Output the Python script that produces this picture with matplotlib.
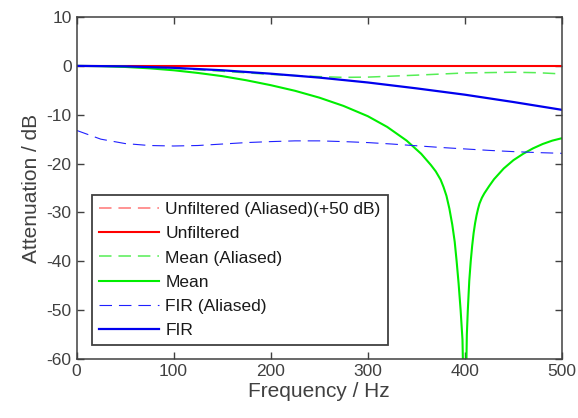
import matplotlib
matplotlib.use("Agg")
import matplotlib.pyplot as plt

# frequency grids (Hz) and attenuation (dB)
f_unf = [0, 500]
unf_aliased = [50, 50]          # +50 dB offset, lies above the visible range
unf = [0, 0]

f_mean = [0, 25, 50, 75, 100, 125, 150, 175, 200, 225, 250, 275, 300, 320,
          340, 355, 365, 370, 375, 378, 381, 384, 387, 389.5, 391.5, 393.5,
          395.6, 397.5, 400, 402, 403, 404.5, 406, 407.5, 409, 410.5, 412,
          413.5, 415, 417.5, 420, 425, 430, 440, 450, 460, 470, 480, 490, 500]
mean = [0, -0.06, -0.22, -0.5, -0.9, -1.45, -2.1, -2.95, -3.95, -5.1, -6.5,
        -8.2, -10.3, -12.5, -15.3, -18.0, -20.3, -21.6, -23.3, -24.8, -26.6,
        -29.2, -32.5, -36.0, -40.0, -44.5, -50.0, -56.0, -80.0, -55.0, -50.0,
        -44.0, -40.0, -36.8, -34.2, -32.2, -30.6, -29.3, -28.2, -27.0, -26.1,
        -24.6, -23.2, -21.0, -19.3, -18.0, -16.9, -16.0, -15.3, -14.8]

f_mean_al = [0, 50, 100, 150, 200, 250, 275, 300, 350, 400, 450, 475, 500]
mean_aliased = [0, -0.12, -0.5, -1.1, -1.75, -2.2, -2.35, -2.3, -1.9, -1.45,
                -1.3, -1.4, -1.65]

f_fir = [0, 50, 100, 150, 200, 250, 300, 350, 400, 450, 500]
fir = [0, -0.1, -0.4, -0.9, -1.6, -2.4, -3.4, -4.6, -5.9, -7.4, -9.0]

f_fir_al = [0, 25, 50, 75, 100, 125, 150, 175, 200, 225, 250, 275, 300, 325,
            350, 375, 400, 425, 450, 475, 500]
fir_aliased = [-13.2, -15.0, -15.9, -16.3, -16.4, -16.3, -16.0, -15.7, -15.5,
               -15.35, -15.35, -15.5, -15.7, -16.0, -16.35, -16.7, -17.0,
               -17.3, -17.55, -17.75, -17.9]

labels = ['Unfiltered (Aliased)(+50 dB)', 'Unfiltered', 'Mean (Aliased)',
          'Mean', 'FIR (Aliased)', 'FIR']


def main():
    plt.rcParams['font.family'] = ['Liberation Sans', 'DejaVu Sans']
    plt.rcParams['lines.scale_dashes'] = False
    plt.rcParams['axes.unicode_minus'] = False
    grey = '#404040'

    fig = plt.figure(figsize=(5.78, 4.18), dpi=100)
    ax = fig.add_axes([0.1324, 0.1411, 0.8399, 0.8182])

    dash = (9, 5)
    ax.plot(f_unf, unf_aliased, color='#ff8080', lw=1.2, dashes=dash, label=labels[0])
    ax.plot(f_unf, unf, color='#ff0000', lw=1.5, label=labels[1])
    ax.plot(f_mean_al, mean_aliased, color='#55ee55', lw=1.1, dashes=dash, label=labels[2])
    ax.plot(f_mean, mean, color='#00ee00', lw=1.5, label=labels[3])
    ax.plot(f_fir_al, fir_aliased, color='#2020ff', lw=0.8, dashes=dash, label=labels[4])
    ax.plot(f_fir, fir, color='#0000ee', lw=1.6, label=labels[5])

    ax.set_xlim(0, 500)
    ax.set_ylim(-60, 10)
    ax.set_xticks(range(0, 501, 100))
    ax.set_yticks(range(-60, 11, 10))
    ax.tick_params(direction='in', top=True, right=True, length=5, width=1,
                   colors=grey, labelsize=12.5, labelcolor=grey)
    for s in ax.spines.values():
        s.set_color(grey)
        s.set_linewidth(1.1)

    ax.set_xlabel('Frequency / Hz', fontsize=15, color=grey, labelpad=2)
    ax.set_ylabel('Attenuation / dB', fontsize=15, color=grey, labelpad=4)

    leg = ax.legend(loc='lower left', bbox_to_anchor=(0.031, 0.041),
                    borderaxespad=0, fontsize=12.5, handlelength=3.5,
                    handletextpad=0.35, labelspacing=0.52, borderpad=0.4,
                    fancybox=False, framealpha=1, edgecolor=grey)
    leg.get_frame().set_linewidth(1.3)
    for t in leg.get_texts():
        t.set_color('#1a1a1a')

    fig.savefig('out.png', dpi=100)


if __name__ == "__main__":
    main()
